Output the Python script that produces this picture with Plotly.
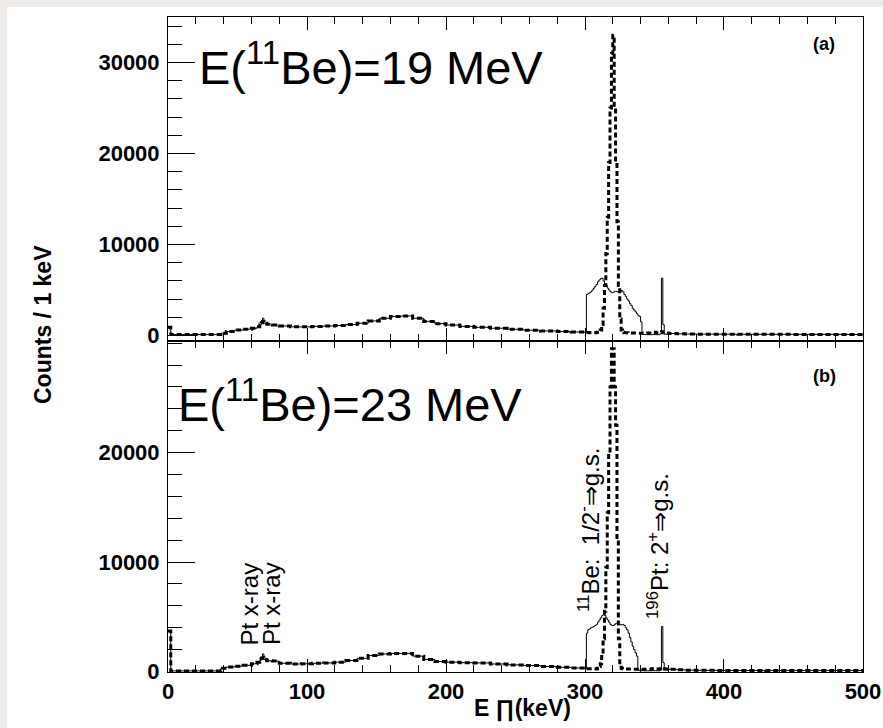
import plotly.graph_objects as go

# ---------------- data ----------------
energy_keV = [0, 2, 38, 42, 48, 54, 60, 64, 66, 67,
              68, 69, 71, 75, 80, 88, 96, 104, 112, 120,
              128, 136, 144, 152, 160, 168, 176, 184, 192, 200,
              210, 220, 232, 244, 256, 268, 280, 290, 300, 301,
              302, 303, 304, 305, 306, 307, 308, 309, 310, 311,
              312, 313, 314, 315, 316, 317, 318, 319, 320, 321,
              322, 323, 324, 325, 326, 327, 328, 329, 330, 331,
              332, 333, 334, 335, 336, 337, 338, 339, 340, 341,
              342, 345, 348, 351, 354, 355, 356, 357, 360, 366,
              372, 380, 395, 410, 430, 450, 470, 490, 500]

# panel (a) E(11Be)=19 MeV, Doppler corrected (dashed)
counts_a_dashed = [900, 100, 250, 450, 600, 700, 800, 950, 1150, 1400,
                   1550, 1350, 1250, 1150, 1050, 950, 950, 1000, 1050, 1100,
                   1200, 1350, 1600, 1900, 2100, 2150, 1900, 1550, 1300, 1150,
                   1000, 900, 800, 680, 580, 500, 430, 380, 330, 320,
                   320, 310, 310, 300, 300, 300, 320, 350, 420, 600,
                   1200, 3000, 5500, 9000, 13000, 19000, 25000, 31000, 33000, 25000,
                   19000, 12500, 5500, 1800, 600, 350, 300, 290, 290, 280,
                   280, 280, 270, 270, 270, 260, 260, 260, 250, 250,
                   250, 280, 350, 300, 350, 420, 300, 280, 220, 180,
                   160, 150, 140, 130, 130, 120, 120, 110, 110]
# panel (a) uncorrected (solid)
counts_a_solid = [900, 100, 250, 450, 600, 700, 800, 950, 1150, 1400,
                  1900, 1350, 1250, 1150, 1050, 950, 950, 1000, 1050, 1100,
                  1200, 1350, 1600, 1900, 2100, 2150, 1900, 1550, 1300, 1150,
                  1000, 900, 800, 680, 580, 500, 430, 380, 300, 4500,
                  4600, 4700, 4800, 5000, 5200, 5400, 5600, 5900, 6100, 6250,
                  6300, 6000, 5700, 5500, 5200, 5000, 4800, 4700, 4750, 4850,
                  4850, 4800, 4750, 4800, 4950, 4800, 4500, 4300, 4000, 3800,
                  3500, 3300, 3000, 2800, 2600, 2400, 2200, 2100, 1500, 150,
                  100, 90, 100, 90, 200, 6300, 1200, 150, 220, 180,
                  160, 150, 140, 130, 130, 120, 120, 110, 110]

# panel (b) E(11Be)=23 MeV, Doppler corrected (dashed)
counts_b_dashed = [3700, 50, 300, 400, 480, 560, 700, 850, 1000, 1200,
                   1250, 1100, 980, 950, 750, 680, 700, 750, 780, 850,
                   1000, 1200, 1450, 1600, 1650, 1650, 1400, 1100, 900, 850,
                   800, 780, 680, 600, 540, 450, 380, 320, 260, 250,
                   250, 240, 240, 230, 230, 230, 250, 300, 450, 700,
                   1500, 3000, 5500, 9500, 14500, 20000, 26000, 29500, 29500, 26000,
                   22500, 12000, 3000, 600, 300, 250, 240, 230, 230, 220,
                   220, 220, 210, 210, 210, 200, 200, 200, 200, 190,
                   190, 200, 250, 220, 250, 300, 260, 230, 200, 150,
                   120, 100, 90, 90, 80, 80, 80, 80, 80]
# panel (b) uncorrected (solid)
counts_b_solid = [3700, 50, 300, 400, 480, 560, 700, 850, 1000, 1200,
                  1600, 1100, 980, 950, 750, 680, 700, 750, 780, 850,
                  1000, 1200, 1450, 1600, 1650, 1650, 1400, 1100, 900, 850,
                  800, 780, 680, 600, 540, 450, 380, 320, 230, 3500,
                  3800, 3900, 4000, 4050, 4100, 4200, 4300, 4500, 4700, 4900,
                  5100, 5200, 5100, 4900, 4700, 4500, 4300, 4200, 4200, 4300,
                  4400, 4350, 4300, 4300, 4250, 4300, 4200, 4000, 3800, 3500,
                  3100, 2700, 2300, 2000, 1700, 1400, 150, 80, 70, 70,
                  60, 60, 70, 60, 150, 4100, 800, 150, 200, 150,
                  120, 100, 90, 90, 80, 80, 80, 80, 80]

x_tick_vals = [0, 100, 200, 300, 400, 500]
x_tick_text = ["0", "100", "200", "300", "400", "500"]
y_tick_vals_a = [0, 10000, 20000, 30000]
y_tick_text_a = ["0", "10000", "20000", "30000"]
y_tick_vals_b = [0, 10000, 20000]
y_tick_text_b = ["0", "10000", "20000"]

# ---------------- figure ----------------
FONT = "Liberation Sans, Arial, Helvetica, sans-serif"
W, H = 883, 728
ML, MR, MT, MB = 168, 20, 17, 56
PW, PH = W - ML - MR, H - MT - MB
split = 331 / PH  # bottom panel height fraction

fig = go.Figure()

def add_pair(xs, ys_solid, ys_dash, xa, ya):
    fig.add_trace(go.Scatter(x=xs, y=ys_solid, xaxis=xa, yaxis=ya, mode="lines",
                             line=dict(shape="hv", width=1, color="black"),
                             showlegend=False, hoverinfo="skip"))
    fig.add_trace(go.Scatter(x=xs, y=ys_dash, xaxis=xa, yaxis=ya, mode="lines",
                             line=dict(shape="hv", width=3, color="black", dash="5px,3px"),
                             showlegend=False, hoverinfo="skip"))

add_pair(energy_keV, counts_b_solid, counts_b_dashed, "x", "y")
add_pair(energy_keV, counts_a_solid, counts_a_dashed, "x2", "y2")

tickfont = dict(family=FONT, size=22, color="black", weight="bold")
xcommon = dict(range=[-0.01, 500.01], tickvals=x_tick_vals, ticktext=x_tick_text,
               ticks="inside", ticklen=13, tickwidth=1, tickcolor="black",
               minor=dict(dtick=20, tick0=0, ticks="inside", ticklen=7, tickcolor="black"),
               showline=True, linecolor="black", linewidth=1, mirror="ticks",
               showgrid=False, zeroline=False, automargin=False)
ycommon = dict(ticks="inside", ticklen=27, tickwidth=1, tickcolor="black",
               minor=dict(dtick=2000, tick0=0, ticks="inside", ticklen=14, tickcolor="black"),
               showline=True, linecolor="black", linewidth=1, mirror=True,
               showgrid=False, zeroline=False, tickfont=tickfont, ticklabelstandoff=3,
               automargin=False)

fig.update_layout(
    width=W, height=H,
    margin=dict(l=ML, r=MR, t=MT, b=MB, pad=0, autoexpand=False),
    paper_bgcolor="#efece9", plot_bgcolor="white",
    xaxis=dict(domain=[0, 1], anchor="y", tickfont=tickfont,
               ticklabeloverflow="allow", **xcommon),
    yaxis=dict(domain=[0, split], anchor="x", range=[-50, 30200],
               tickvals=y_tick_vals_b, ticktext=y_tick_text_b, **ycommon),
    xaxis2=dict(domain=[0, 1], anchor="y2", matches="x", showticklabels=False, **xcommon),
    yaxis2=dict(domain=[split, 1], anchor="x2", range=[-604, 35000],
                tickvals=y_tick_vals_a, ticktext=y_tick_text_a, **ycommon),
)

# white page area (light grey strip on top and left)
def px_x(p):
    return (p - ML) / PW

def px_y(p):
    return (H - MB - p) / PH

fig.add_shape(type="rect", xref="paper", yref="paper", layer="below",
              x0=px_x(7), x1=px_x(W + 5), y0=px_y(H + 5), y1=px_y(7),
              fillcolor="white", line=dict(width=0))

def ann(text, x, y, size, bold=False, angle=0):
    fig.add_annotation(text=text, x=x, y=y, xref="paper", yref="paper", showarrow=False,
                       textangle=angle, xanchor="center", yanchor="middle",
                       font=dict(family=FONT, size=size, color="black",
                                 weight="bold" if bold else "normal"))

# panel titles
ann("E(<sup>11</sup>Be)=19 MeV", px_x(371), px_y(64), 47)
ann("E(<sup>11</sup>Be)=23 MeV", px_x(350), px_y(401), 47)
ann("(a)", px_x(824), px_y(44), 18, bold=True)
ann("(b)", px_x(824), px_y(376), 18, bold=True)

# peak labels in (b)
ann("Pt x-ray", px_x(248.5), px_y(604), 24, angle=-90)
ann("Pt x-ray", px_x(271), px_y(604), 24, angle=-90)
ann("<sup>11</sup>Be:  1/2<sup>-</sup>⇒g.s.", px_x(589), px_y(530), 24, angle=-90)
ann("<sup>196</sup>Pt: 2<sup>+</sup>⇒g.s.", px_x(658), px_y(546), 24, angle=-90)

# axis titles
ann("Counts / 1 keV", px_x(43), px_y(325), 23, bold=True, angle=-90)
ann("E ∏(keV)", px_x(522), px_y(709), 23, bold=True)

fig.write_html("out.html")
